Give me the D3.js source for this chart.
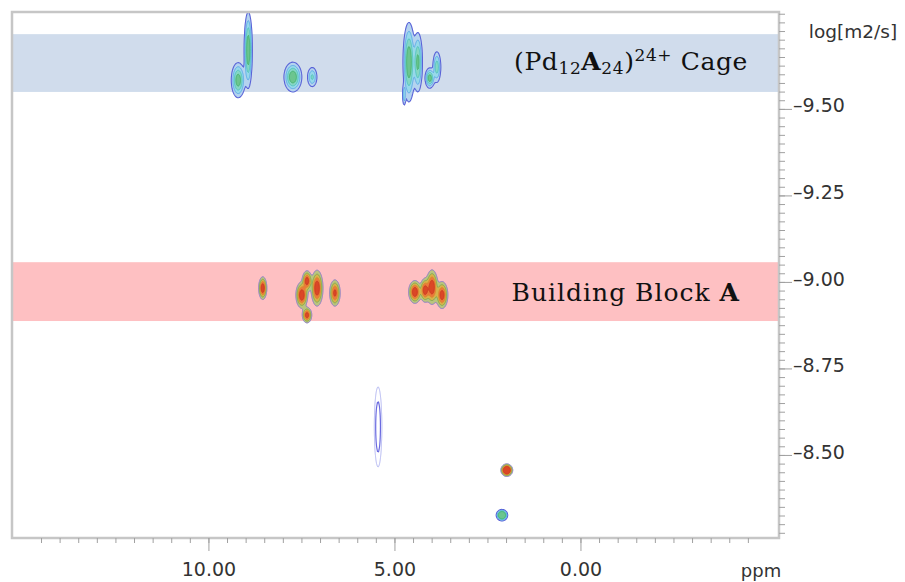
<!DOCTYPE html>
<html>
<head>
<meta charset="utf-8">
<script src="https://cdn.jsdelivr.net/npm/d3@7"></script>
<style>
  html, body { margin: 0; background: #ffffff; }
  svg { display: block; }
</style>
</head>
<body>
<svg id="chart" width="905" height="582"></svg>
<script>
// ---- DOSY cross peaks: chemical shift (ppm), log D (log m2/s), half extent in each dimension, relative height
const cagePpm    = [8.93, 9.20, 7.73, 7.21, 4.61, 4.37, 4.05, 3.86, 4.74, 2.11];
const cageLogD   = [-9.670, -9.583, -9.592, -9.592, -9.635, -9.635, -9.589, -9.621, -9.540, -8.326];
const cageHalfPpm  = [0.11, 0.19, 0.24, 0.15, 0.16, 0.13, 0.13, 0.12, 0.05, 0.13];
const cageHalfLogD = [0.110, 0.052, 0.043, 0.033, 0.115, 0.090, 0.030, 0.050, 0.035, 0.014];
const cageHeight   = [1.0, 0.9, 1.0, 0.5, 1.0, 0.8, 0.9, 0.6, 0.4, 2.5];

const blockPpm    = [8.54, 7.49, 7.35, 7.08, 6.60, 7.35, 4.45, 4.18, 3.99, 3.72, 1.98];
const blockLogD   = [-8.982, -8.962, -9.003, -8.982, -8.968, -8.904, -8.971, -8.976, -8.985, -8.962, -8.456];
const blockHalfPpm  = [0.11, 0.16, 0.13, 0.16, 0.15, 0.13, 0.17, 0.13, 0.16, 0.16, 0.14];
const blockHalfLogD = [0.033, 0.038, 0.030, 0.052, 0.040, 0.023, 0.033, 0.035, 0.050, 0.040, 0.016];
const blockHeight   = [1.0, 1.0, 0.9, 1.0, 0.8, 0.9, 1.0, 0.9, 1.0, 0.9, 2.0];

// weak solvent signal, drawn as open contours only
const solventPpm = [5.44];
const solventLogD = [-8.581];
const solventHalfPpm = [0.10];
const solventHalfLogD = [0.116];
const solventHeight = [1.0];

// ---- species bands (log D range)
const bandNames = ["cage", "block"];
const bandLow   = [-9.716, -9.057];
const bandHigh  = [-9.549, -8.887];

// ---- axis ticks
const ppmLabelTicks = [10, 5, 0];
const ppmMinorTicks = d3.range(14.5, -4.6, -0.5);
const logDLabelTicks = [-9.50, -9.25, -9.00, -8.75, -8.50];
const logDMinorTicks = d3.range(-9.775, -8.26, 0.025);

// ---- layout
const W = 905, H = 582;
const plot = { left: 12, top: 12, right: 779, bottom: 538 };

const x = d3.scaleLinear().domain([15.28, -5.31]).range([plot.left, plot.right - 1]);
const y = d3.scaleLinear().domain([-9.780, -8.260]).range([plot.top, plot.bottom]);

const svg = d3.select("#chart");

// species bands
const bandFill = { cage: "#d0dcec", block: "#fec0c2" };
svg.append("g").selectAll("rect")
  .data(bandNames.map((n, i) => ({ n, lo: bandLow[i], hi: bandHigh[i] })))
  .join("rect")
  .attr("x", plot.left + 1)
  .attr("width", plot.right - plot.left - 2)
  .attr("y", d => y(d.lo))
  .attr("height", d => y(d.hi) - y(d.lo))
  .attr("fill", d => bandFill[d.n]);

// ---- contour rendering of the peak fields
const gw = plot.right - plot.left, gh = plot.bottom - plot.top;
const K = Math.sqrt(2 * Math.log(10)); // outer contour (10 %) sits at K sigma

function peaks(ppm, logD, hp, hl, h) {
  return ppm.map((p, i) => ({ ppm: p, logD: logD[i], hp: hp[i], hl: hl[i], h: h[i] }));
}

function field(list) {
  const v = new Float64Array(gw * gh);
  list.forEach(p => {
    const cx = x(p.ppm) - plot.left, cy = y(p.logD) - plot.top;
    const sx = Math.abs(x(p.ppm + p.hp) - x(p.ppm)) / K;
    const sy = Math.abs(y(p.logD + p.hl) - y(p.logD)) / K;
    const i0 = Math.max(0, Math.floor(cx - 4 * sx)), i1 = Math.min(gw - 1, Math.ceil(cx + 4 * sx));
    const j0 = Math.max(0, Math.floor(cy - 4 * sy)), j1 = Math.min(gh - 1, Math.ceil(cy + 4 * sy));
    for (let j = j0; j <= j1; j++) {
      const dy = (j + 0.5 - cy) / sy;
      for (let i = i0; i <= i1; i++) {
        const dx = (i + 0.5 - cx) / sx;
        v[j * gw + i] += p.h * Math.exp(-0.5 * (dx * dx + dy * dy));
      }
    }
  });
  return v;
}

const defs = svg.append("defs");
defs.append("filter").attr("id", "soft")
  .append("feGaussianBlur").attr("stdDeviation", 0.6);

function drawContours(list, thresholds, fills, strokes, widths) {
  const values = field(list);
  const sets = d3.contours().size([gw, gh]).thresholds(thresholds)(values);
  svg.append("g")
    .attr("transform", `translate(${plot.left},${plot.top})`)
    .attr("filter", "url(#soft)")
    .selectAll("path")
    .data(sets)
    .join("path")
    .attr("d", d3.geoPath())
    .attr("fill", (d, i) => fills[i])
    .attr("stroke", (d, i) => strokes[i])
    .attr("stroke-width", (d, i) => widths[i]);
}

const levels = [0.1, 0.25, 0.45, 0.7];

drawContours(
  peaks(cagePpm, cageLogD, cageHalfPpm, cageHalfLogD, cageHeight),
  levels,
  ["#b4d3ef", "#97d8ea", "#86d6c4", "#6cc58f"],
  ["#5a64d8", "#4fa2e6", "#47c0bc", "#3fae6a"],
  [1.1, 0.8, 0.8, 0.8]
);

drawContours(
  peaks(blockPpm, blockLogD, blockHalfPpm, blockHalfLogD, blockHeight),
  levels,
  ["#b9c47e", "#d8b24c", "#ea7a3a", "#db4628"],
  ["#8a7cc8", "#76a84a", "#d88a2c", "#c83a22"],
  [1.0, 0.8, 0.8, 0.8]
);

drawContours(
  peaks(solventPpm, solventLogD, solventHalfPpm, solventHalfLogD, solventHeight),
  [0.1, 0.4],
  ["none", "none"],
  ["#b0b4f0", "#6a6ae0"],
  [1.0, 1.2]
);

// ---- frame
svg.append("rect")
  .attr("x", plot.left).attr("y", plot.top)
  .attr("width", plot.right - plot.left).attr("height", plot.bottom - plot.top)
  .attr("fill", "none").attr("stroke", "#c6c6c6").attr("stroke-width", 2.5);

// ---- axes
const tickFont = "'DejaVu Sans', Verdana, sans-serif";
const fmt2 = v => (v < 0 ? "\u2013" : "") + Math.abs(v).toFixed(2);

function styleAxis(g) {
  g.select(".domain").remove();
  g.selectAll("line").attr("stroke", "#a0a0a0");
  g.selectAll("text").attr("fill", "#333").attr("font-family", tickFont).attr("font-size", 19);
}

svg.append("g").attr("transform", `translate(0,${plot.bottom})`)
  .call(d3.axisBottom(x).tickValues(ppmMinorTicks).tickSize(5).tickFormat(""))
  .call(styleAxis);
svg.append("g").attr("transform", `translate(0,${plot.bottom})`)
  .call(d3.axisBottom(x).tickValues(ppmLabelTicks).tickSize(13).tickPadding(12).tickFormat(fmt2))
  .call(styleAxis);

svg.append("g").attr("transform", `translate(${plot.right},0)`)
  .call(d3.axisRight(y).tickValues(logDMinorTicks).tickSize(6).tickFormat(""))
  .call(styleAxis);
svg.append("g").attr("transform", `translate(${plot.right},0)`)
  .call(d3.axisRight(y).tickValues(logDLabelTicks).tickSize(13).tickPadding(1).tickFormat(fmt2))
  .call(styleAxis)
  .call(g => g.selectAll("text").attr("y", -3));

// axis unit captions
svg.append("text")
  .attr("x", 853).attr("y", 38)
  .attr("text-anchor", "middle")
  .attr("font-family", tickFont).attr("font-size", 18.5).attr("fill", "#333")
  .text("log[m2/s]");
svg.append("text")
  .attr("x", 761).attr("y", 577)
  .attr("text-anchor", "middle")
  .attr("font-family", tickFont).attr("font-size", 18).attr("fill", "#333")
  .text("ppm");

// ---- band captions
const serif = "'DejaVu Serif', 'Liberation Serif', serif";
const yMid = i => (y(bandLow[i]) + y(bandHigh[i])) / 2;

const cageLabel = svg.append("text")
  .attr("x", 748).attr("y", yMid(0) + 7)
  .attr("text-anchor", "end")
  .attr("font-family", serif).attr("font-size", 25).attr("fill", "#111")
  .attr("letter-spacing", 0.6);
cageLabel.append("tspan").text("(Pd");
cageLabel.append("tspan").attr("font-size", 17).attr("dy", 4).text("12");
cageLabel.append("tspan").attr("font-weight", "bold").attr("dy", -4).text("A");
cageLabel.append("tspan").attr("font-size", 17).attr("dy", 4).text("24");
cageLabel.append("tspan").attr("dy", -4).text(")");
cageLabel.append("tspan").attr("font-size", 17).attr("dy", -9).text("24+");
cageLabel.append("tspan").attr("dy", 9).text(" Cage");

const blockLabel = svg.append("text")
  .attr("x", 740).attr("y", yMid(1) + 9)
  .attr("text-anchor", "end")
  .attr("font-family", serif).attr("font-size", 25).attr("fill", "#111")
  .attr("letter-spacing", 1);
blockLabel.append("tspan").text("Building Block ");
blockLabel.append("tspan").attr("font-weight", "bold").text("A");
</script>
</body>
</html>
